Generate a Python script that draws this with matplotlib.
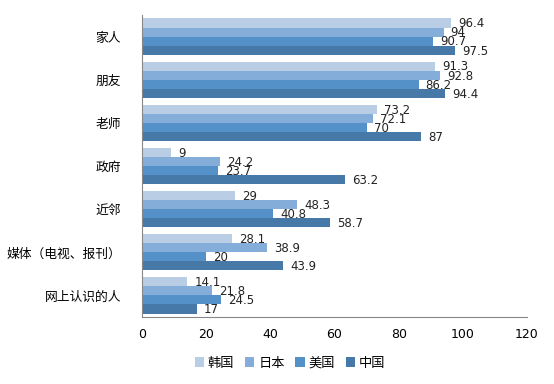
import numpy as np
import matplotlib.pyplot as plt

plt.rcParams['font.family'] = ['Noto Sans CJK SC', 'DejaVu Sans']

categories = ["家人", "朋友", "老师", "政府", "近邻", "媒体（电视、报刊）", "网上认识的人"]
series_names = ["韩国", "日本", "美国", "中国"]
korea = [96.4, 91.3, 73.2, 9, 29, 28.1, 14.1]
japan = [94, 92.8, 72.1, 24.2, 48.3, 38.9, 21.8]
usa = [90.7, 86.2, 70, 23.7, 40.8, 20, 24.5]
china = [97.5, 94.4, 87, 63.2, 58.7, 43.9, 17]
colors = ["#B9CDE5", "#85ADDA", "#5491C8", "#4779A8"]

fig = plt.figure(figsize=(5.54, 3.84), dpi=100)
ax = fig.add_axes([142 / 554, 1 - 317 / 384, 385 / 554, 302 / 384])

y = np.arange(len(categories))
bar_h = 0.21
for i, (name, vals) in enumerate(zip(series_names, [korea, japan, usa, china])):
    pos = y - 1.5 * bar_h + i * bar_h
    ax.barh(pos, vals, height=bar_h, color=colors[i], label=name)
    for p, v in zip(pos, vals):
        ax.text(v + 2.2, p + 0.02, f"{v:g}", va="center", ha="left",
                fontsize=8.5, color="#222222", family=['DejaVu Sans'])

ax.set_xlim(0, 120)
ax.set_xticks(range(0, 121, 20))
ax.set_ylim(len(categories) - 0.5, -0.5)
ax.set_yticks(y)
ax.set_yticklabels(categories, fontsize=9.2)
ax.tick_params(axis="both", length=0)
ax.tick_params(axis="y", pad=15)
ax.tick_params(axis="x", pad=8, labelsize=9)
for lab in ax.get_xticklabels():
    lab.set_family(['DejaVu Sans'])
for s in ["top", "right"]:
    ax.spines[s].set_visible(False)
for s in ["left", "bottom"]:
    ax.spines[s].set_color("#888888")

fig.legend(loc="center", bbox_to_anchor=(290 / 554, 1 - 363 / 384), ncol=4,
           frameon=False, fontsize=9.5, handlelength=0.7, handleheight=0.7,
           handletextpad=0.3, columnspacing=0.8)

fig.savefig("out.png", dpi=100)
